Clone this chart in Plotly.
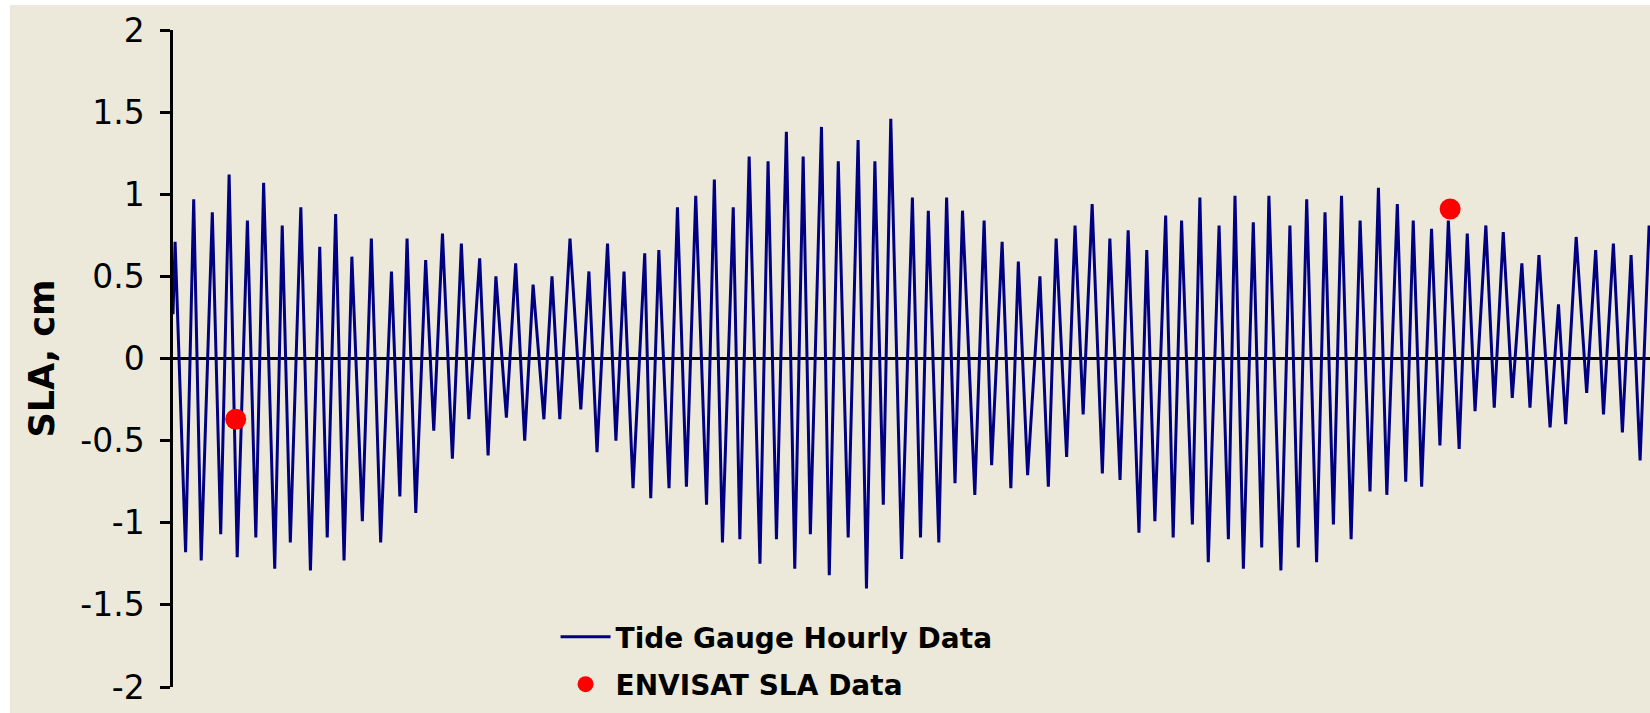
import plotly.graph_objects as go

# Tide gauge series: turning points (hour index, SLA in cm)
gauge_hours = [
    0, 0.7, 4.2, 6.9, 9.4, 13.1, 15.9, 18.7, 21.4, 24.8, 27.6, 30.2, 33.9, 36.4, 39.1, 42.6,
    45.8, 48.9, 51.4, 54.2, 57.0, 59.6, 63.1, 66.1, 69.2, 72.8, 75.6, 78.0, 80.9, 84.2, 86.9,
    89.8, 93.1,
    96.1, 98.6, 102.2, 105.0, 107.6, 111.1, 114.2, 117.2, 120.0, 123.6, 126.3, 128.9, 132.3,
    135.9, 138.6, 141.3, 144.8, 147.6, 150.3, 153.3, 157.2, 159.2,
    161.9, 165.3, 168.1, 171.1, 174.2, 177.8, 180.4, 183.1, 186.7, 188.9, 192.0, 195.6, 198.3,
    201.1, 204.4, 207.2, 210.0, 212.4, 216.1, 218.7, 221.7, 225.0,
    228.3, 231.1, 233.9, 236.7, 239.2, 242.8, 246.4, 249.1, 251.7, 255.2, 257.8, 260.6, 263.1,
    267.2, 270.3, 272.8, 276.3, 279.2, 281.7, 284.8, 288.9, 291.7,
    294.3, 297.8, 300.6, 303.3, 306.3, 309.7, 312.2, 315.6, 318.3, 321.9, 324.5, 327.2, 330.8,
    333.3, 336.1, 339.7, 342.2, 345.0, 348.6, 351.7, 353.9, 356.7,
    360.0, 362.8, 365.2, 369.2, 372.2, 375.0, 377.8, 381.1, 383.9, 386.7, 389.4, 392.6, 395.6,
    398.9, 401.7, 404.5, 408.0, 410.8, 413.3, 416.1, 419.4, 422.2, 425.0,
    428.6, 431.3, 433.9, 437.5, 440.3, 443.3, 446.3, 449.5, 452.2, 455.2, 458.9, 461.7, 464.1,
    467.6, 471.1, 474.1, 476.7, 480.0, 483.0, 485.9, 488.9, 491.9,
]
gauge_sla = [
    0.27, 0.71, -1.18, 0.97, -1.23, 0.89, -1.07, 1.12, -1.21, 0.84, -1.09, 1.07, -1.28, 0.81,
    -1.12, 0.92, -1.29, 0.68, -1.09, 0.88, -1.23, 0.62, -0.99, 0.73, -1.12, 0.53, -0.84, 0.73,
    -0.94, 0.60, -0.44, 0.76, -0.61,
    0.70, -0.37, 0.61, -0.59, 0.50, -0.36, 0.58, -0.50, 0.45, -0.37, 0.50, -0.37, 0.73, -0.31,
    0.53, -0.57, 0.70, -0.50, 0.53, -0.79, 0.64, -0.85,
    0.66, -0.79, 0.92, -0.78, 0.99, -0.89, 1.09, -1.12, 0.92, -1.10, 1.23, -1.25, 1.20, -1.10,
    1.38, -1.28, 1.23, -1.07, 1.41, -1.32, 1.20, -1.09,
    1.33, -1.40, 1.20, -0.89, 1.46, -1.22, 0.98, -1.09, 0.90, -1.12, 0.98, -0.76, 0.90, -0.83,
    0.84, -0.65, 0.71, -0.79, 0.59, -0.71, 0.50, -0.78,
    0.73, -0.60, 0.81, -0.34, 0.94, -0.70, 0.73, -0.74, 0.78, -1.06, 0.66, -0.99, 0.87, -1.09,
    0.84, -1.01, 0.98, -1.24, 0.81, -1.10, 0.99, -1.28,
    0.83, -1.15, 0.99, -1.29, 0.81, -1.15, 0.97, -1.24, 0.89, -1.01, 0.99, -1.10, 0.84, -0.81,
    1.04, -0.83, 0.94, -0.75, 0.84, -0.78, 0.79, -0.53, 0.84,
    -0.55, 0.76, -0.32, 0.81, -0.30, 0.77, -0.24, 0.58, -0.30, 0.63, -0.42, 0.33, -0.40, 0.74,
    -0.21, 0.66, -0.34, 0.70, -0.45, 0.63, -0.62, 0.81,
]

# ENVISAT altimeter points
envisat_hours = [20.9, 425.6]
envisat_sla = [-0.37, 0.91]

# Axis ticks
y_tick_vals = [-2, -1.5, -1, -0.5, 0, 0.5, 1, 1.5, 2]
y_tick_text = ["-2", "-1.5", "-1", "-0.5", "0", "0.5", "1", "1.5", "2"]
x_range = [0, 492.2]

BEIGE = "#ECE9DA"
FONT = "DejaVu Sans"

fig = go.Figure()
fig.add_trace(go.Scatter(
    x=gauge_hours, y=gauge_sla, mode="lines", name="Tide Gauge Hourly Data",
    line=dict(color="#000080", width=3), legendgroup="a",
))
fig.add_trace(go.Scatter(
    x=envisat_hours, y=envisat_sla, mode="markers", name="ENVISAT SLA Data",
    marker=dict(color="#FF0000", size=21, line=dict(width=0)), legendgroup="b",
))

fig.update_layout(
    width=1650, height=713,
    margin=dict(l=173, r=0, t=30, b=26, autoexpand=False),
    paper_bgcolor="white",
    plot_bgcolor=BEIGE,
    font=dict(family=FONT, color="black"),
    showlegend=True,
    legend=dict(
        x=0.259, y=0.114, xanchor="left", yanchor="top",
        bgcolor="rgba(0,0,0,0)",
        font=dict(family=FONT, size=28, color="black", weight="bold"),
        traceorder="grouped", tracegroupgap=8, itemwidth=50,
    ),
    shapes=[dict(
        type="rect", xref="paper", yref="paper", layer="below",
        x0=-0.1104, x1=1.0, y0=-0.05, y1=1.038,
        fillcolor=BEIGE, line=dict(width=0),
    )],
    xaxis=dict(range=x_range, visible=False, showgrid=False, zeroline=False),
    yaxis=dict(
        range=[-2, 2], tickvals=y_tick_vals, ticktext=y_tick_text,
        showgrid=False, showline=True, linecolor="black", linewidth=2.5,
        ticks="outside", ticklen=10, tickwidth=2.5, tickcolor="black",
        tickfont=dict(family=FONT, size=33, color="black"),
        ticklabelstandoff=9,
        zeroline=True, zerolinecolor="black", zerolinewidth=2.5,
        layer="above traces",
        title=dict(text="SLA, cm", standoff=16,
                   font=dict(family=FONT, size=35, color="black", weight="bold")),
    ),
)

fig.write_html("out.html")
